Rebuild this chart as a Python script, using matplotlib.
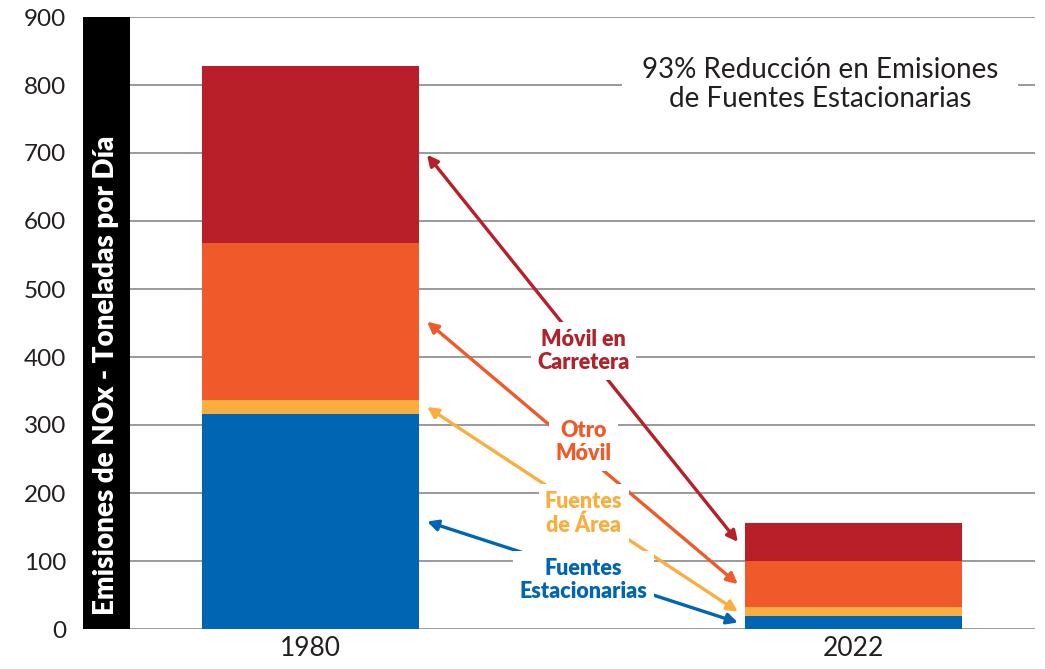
import matplotlib
matplotlib.use("Agg")
import matplotlib.pyplot as plt
import numpy as np

years = ["1980", "2022"]
categories = ["Fuentes\nEstacionarias", "Fuentes\nde Área", "Otro\nMóvil", "Móvil en\nCarretera"]
stationary = [316, 19]
area = [21, 13]
other_mobile = [230, 68]
on_road = [261, 56]
series = [stationary, area, other_mobile, on_road]
bar_colors = ["#0066B3", "#FBAE40", "#F05A2A", "#B81F29"]
text_colors = ["#0066B3", "#FBAE40", "#F05A28", "#B1232B"]
yticks = list(range(0, 1000, 100))
title_text = "93% Reducción en Emisiones\nde Fuentes Estacionarias"
ylabel_text = "Emisiones de NOx - Toneladas por Día"

plt.rcParams['font.family'] = ['Lato', 'DejaVu Sans']

W, H = 1045, 669
fig = plt.figure(figsize=(W / 100, H / 100), dpi=100)
ax = fig.add_axes([83 / W, 1 - 629 / H, 952 / W, 612 / H])

x = np.arange(len(years))
width = 0.4
bottom = np.zeros(len(years))
mids = []
for vals, col in zip(series, bar_colors):
    v = np.array(vals, dtype=float)
    ax.bar(x, v, width=width, bottom=bottom, color=col, edgecolor='none', zorder=2)
    mids.append(bottom + v / 2)
    bottom = bottom + v

ax.set_xlim(-0.419, 1.334)
ax.set_ylim(0, 900)
ax.set_yticks(yticks)
ax.set_yticklabels([str(t) for t in yticks], fontsize=17.5, color='#231F20')
ax.set_xticks(x)
ax.set_xticklabels(years, fontsize=19, color='#231F20')
ax.tick_params(axis='both', length=0)
ax.tick_params(axis='y', pad=12)
ax.tick_params(axis='x', pad=5)
ax.yaxis.grid(True, color='#9A9A9A', linewidth=1.4, zorder=0)
ax.set_axisbelow(True)
for s in ax.spines.values():
    s.set_visible(False)

# black y-label band
ax.add_patch(plt.Rectangle((0, 0), 47 / 952, 1, transform=ax.transAxes,
                           facecolor='black', edgecolor='none', zorder=3, clip_on=False))
ax.text(0.5 * 47 / 952, 20, ylabel_text, transform=ax.get_yaxis_transform(),
        rotation=90, ha='center', va='bottom', color='white', fontsize=20,
        fontweight='heavy', zorder=4)

# arrows and labels
label_y = [72, 170, 275, 409]
lx_left = 0.2145
lx_right = 0.787
label_x = 0.503
for i in range(len(categories)):
    ax.annotate('', xy=(lx_left, mids[i][0]), xytext=(lx_right, mids[i][1]),
                arrowprops=dict(arrowstyle='<|-|>', color=bar_colors[i], lw=2.4,
                                mutation_scale=16, shrinkA=0, shrinkB=0), zorder=4)
    ax.text(label_x, label_y[i], categories[i], ha='center', va='center',
            color=text_colors[i], fontsize=15.5, fontweight='heavy', linespacing=1.15,
            bbox=dict(boxstyle='square,pad=0.3', fc='white', ec='none'), zorder=5)

ax.text(0.938, 801, title_text, ha='center', va='center', fontsize=20,
        color='#231F20', linespacing=1.15,
        bbox=dict(boxstyle='square,pad=0.7', fc='white', ec='none'), zorder=5)

fig.savefig("out.png", dpi=100, facecolor='white')
